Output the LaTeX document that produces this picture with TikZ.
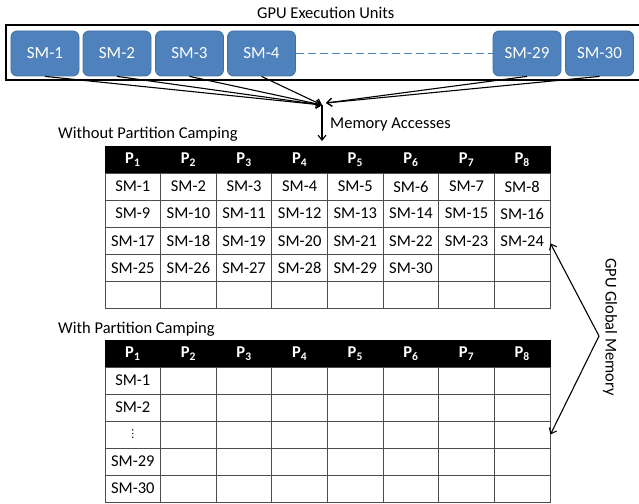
\documentclass[tikz,border=0pt]{standalone}
\usepackage{fontspec}
\setmainfont{Carlito}
\newfontfamily\dejavu{DejaVu Sans}
\usetikzlibrary{arrows.meta}
\definecolor{smfill}{HTML}{4F81BD}
\definecolor{smdraw}{HTML}{41719C}
\definecolor{gridc}{HTML}{4D4D4D}
\tikzset{
  smbox/.style={draw=smdraw, fill=smfill, rounded corners=6bp, minimum width=68bp,
    minimum height=45bp, text=white, font=\fontsize{17bp}{20bp}\selectfont, line width=0.8bp, inner sep=0pt},
  lbl/.style={font=\fontsize{16.5bp}{19bp}\selectfont, inner sep=0pt},
  acc/.style={line width=1.1bp, -{Straight Barb[length=5bp,width=8bp]}},
  hdr/.style={draw=black, fill=black, text=white, minimum width=55.6bp, minimum height=27bp,
    inner sep=0pt, font=\fontsize{16.5bp}{19bp}\selectfont\bfseries},
  cell/.style={draw=gridc, line width=0.9bp, minimum width=55.6bp, minimum height=27bp,
    inner sep=0pt, font=\fontsize{16.5bp}{19bp}\selectfont},
}
\begin{document}
\begin{tikzpicture}[x=1bp,y=-1bp]
\useasboundingbox (0,0) rectangle (639,504);
% title and frame
\node[lbl, anchor=base west] (title) at (257,19) {GPU Execution Units};
\draw[line width=1.6bp] (645,25) -- (6,25) -- (6,80) -- (645,80);
% SM boxes
\node[smbox] (sm1) at (45,53.5) {SM-1};
\node[smbox] (sm2) at (117,53.5) {SM-2};
\node[smbox] (sm3) at (189.5,53.5) {SM-3};
\node[smbox] (sm4) at (261.5,53.5) {SM-4};
\node[smbox] (sm29) at (527,53.5) {SM-29};
\node[smbox] (sm30) at (599.5,53.5) {SM-30};
\draw[draw=smfill, line width=1.5bp, dash pattern=on 8bp off 4bp] (sm4.east) -- (sm29.west);
% memory access arrows
\coordinate (hub) at (322,105);
\coordinate (hubr) at (326,103);
\foreach \s in {sm1,sm2,sm3,sm4} \draw[acc] (\s.south) -- (hub);
\foreach \s in {sm29,sm30} \draw[acc] (\s.south) -- (hubr);
\coordinate (memtip) at (322,141);
\draw[acc] (hub) -- (memtip);
\node[lbl, anchor=base west] (macc) at (330,129) {Memory Accesses};
% labels
\node[lbl, anchor=base west] (wo) at (58,139) {Without Partition Camping};
\node[lbl, anchor=base west] (wi) at (58,333) {With Partition Camping};
% headers
\foreach \c in {1,...,8} {
  \node[hdr] (t1h\c) at ({105+27.8+(\c-1)*55.625},159.5) {P\textsubscript{\c}};
  \node[hdr] (t2h\c) at ({105+27.8+(\c-1)*55.625},353.5) {P\textsubscript{\c}};
}
% table 1
\foreach \r in {1,...,5} {
  \foreach \c in {1,...,8} {
    \pgfmathtruncatemacro{\n}{(\r-1)*8+\c}
    \ifnum\n<31
      \node[cell] (t1c\r-\c) at ({105+27.8+(\c-1)*55.625},{173+13.5+(\r-1)*27.2}) {SM-\n};
    \else
      \node[cell] (t1c\r-\c) at ({105+27.8+(\c-1)*55.625},{173+13.5+(\r-1)*27.2}) {};
    \fi
  }
}
% table 2
\foreach \r/\t in {1/SM-1,2/SM-2,3/{{\dejavu\fontsize{11bp}{13bp}\selectfont ⋮}},4/SM-29,5/SM-30} {
  \node[cell] (t2c\r-1) at (132.8,{367+13.5+(\r-1)*27}) {\t};
  \foreach \c in {2,...,8} {
    \node[cell] (t2c\r-\c) at ({105+27.8+(\c-1)*55.625},{367+13.5+(\r-1)*27}) {};
  }
}
% global memory
\node[lbl, rotate=-90] (ggm) at (610,327) {GPU Global Memory};
\coordinate (gv) at (599,336);
\draw[acc] (gv) -- ([yshift=-2.5bp]t1c3-8.east);
\draw[acc] (gv) -- (t2c3-8.east);
\end{tikzpicture}
\end{document}
